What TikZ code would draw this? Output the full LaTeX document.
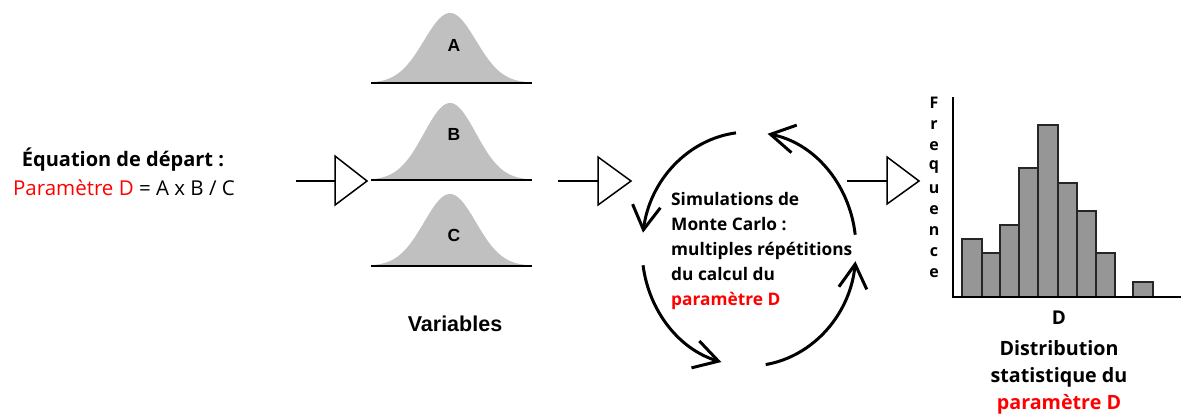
\documentclass[tikz,border=0pt]{standalone}
\usepackage{fontspec}
\setmainfont{Open Sans}
\newfontfamily\arialf{Liberation Sans}
\usetikzlibrary{arrows.meta}
\definecolor{bellgray}{HTML}{C0C0C0}
\definecolor{bargray}{HTML}{969696}
\definecolor{pred}{HTML}{FF0000}
\begin{document}
\begin{tikzpicture}[x=1pt,y=1pt,
  tri/.style={draw=black, line width=1.5pt, fill=white, line join=miter},
  stem/.style={line width=1.5pt},
  base/.style={line width=2pt},
  cyc/.style={line width=3pt, -{Straight Barb[length=24pt,width=28pt,line width=3pt]}},
  histbar/.style={draw=black!85, line width=1.5pt, fill=bargray},
  segb/.style={font=\bfseries\fontsize{19}{22}\selectfont, inner sep=0pt},
  arb/.style={font=\arialf\bfseries\fontsize{17.5}{20}\selectfont, inner sep=0pt},
  freq/.style={font=\bfseries\fontsize{16}{18}\selectfont, inner sep=0pt}]
\useasboundingbox (0,0) rectangle (1186,-415);

% left equation
\node[font=\bfseries\fontsize{20}{24}\selectfont, inner sep=0pt] (eq) at (123,-160) {Équation de départ :};
\node[font=\fontsize{20.5}{24}\selectfont, inner sep=0pt] (par) at (124,-188) {\textcolor{pred}{Paramètre D} = A x B / C};

% arrow 1
\coordinate (s1) at (296,-181);
\coordinate (t1) at (335,-181);
\draw[stem] (s1) -- (t1);
\draw[tri] (335,-156) -- (367,-181) -- (335,-205) -- cycle;

% bells
\foreach \by/\h/\lab/\ly in {83/70/A/45, 180/77/B/134, 266/72/C/235}{
  \fill[bellgray] (371,-\by) -- plot[domain=371:532, samples=90] (\x, {-\by + \h*exp(-((\x-450)/26)^2/2)}) -- (532,-\by) -- cycle;
  \draw[base] (371,-\by) -- (532,-\by);
  \node[arb] (lab\lab) at (454,-\ly) {\lab};
}
\node[arb, font=\arialf\bfseries\fontsize{21.5}{24}\selectfont] (vars) at (455,-324) {Variables};

% arrow 2
\coordinate (s2) at (558,-181);
\coordinate (t2) at (598,-181);
\draw[stem] (s2) -- (t2);
\draw[tri] (598,-157) -- (631,-181) -- (598,-205) -- cycle;

% cycle arrows
\def\cx{749}\def\cy{-249}\def\rx{107}\def\ry{117}
\draw[cyc] ({\cx+\rx*cos(97)},{\cy+\ry*sin(97)}) arc[start angle=97, end angle=172, x radius=\rx, y radius=\ry];
\draw[cyc] ({\cx+\rx*cos(188)},{\cy+\ry*sin(188)}) arc[start angle=188, end angle=255, x radius=\rx, y radius=\ry];
\draw[cyc] ({\cx+\rx*cos(279)},{\cy+\ry*sin(279)}) arc[start angle=279, end angle=354, x radius=\rx, y radius=\ry];
\draw[cyc] ({\cx+\rx*cos(7)},{\cy+\ry*sin(7)}) arc[start angle=7, end angle=80, x radius=\rx, y radius=\ry];

\node[anchor=west, align=left, inner sep=0pt, font=\bfseries\fontsize{17.3}{25}\selectfont] (sim) at (671,-251)
  {Simulations de\\Monte Carlo :\\multiples répétitions\\du calcul du\\\textcolor{pred}{paramètre D}};

% arrow 3
\coordinate (s3) at (847,-181);
\coordinate (t3) at (887,-181);
\draw[stem] (s3) -- (t3);
\draw[tri] (887,-157) -- (919,-181) -- (887,-204) -- cycle;

% histogram
\foreach \xa/\xb/\top in {962/982/239, 982/1000/253, 1000/1019/225, 1019/1038/168, 1038/1058/125, 1058/1077/183, 1077/1096/211, 1096/1115/253, 1133/1153/282}{
  \draw[histbar] (\xa,-297) rectangle (\xb,-\top);
}
\coordinate (yax) at (953,-97);
\coordinate (org) at (953,-297);
\coordinate (xax) at (1181,-297);
\draw[base] (yax) -- (org) -- (xax);

\foreach \l/\yy [count=\i] in {F/103, r/125, e/146, q/167, u/189, e/210, n/231, c/252, e/273}{
  \node[freq] (fq\i) at (934,-\yy) {\l};
}
\node[segb] (dlab) at (1059,-318) {D};
\node[segb, font=\bfseries\fontsize{19.7}{22}\selectfont] (dist1) at (1059,-348) {Distribution};
\node[segb, font=\bfseries\fontsize{19.7}{22}\selectfont] (dist2) at (1059,-377) {statistique du};
\node[segb, font=\bfseries\fontsize{19.7}{22}\selectfont, text=pred] (dist3) at (1059,-404) {paramètre D};
\end{tikzpicture}
\end{document}
